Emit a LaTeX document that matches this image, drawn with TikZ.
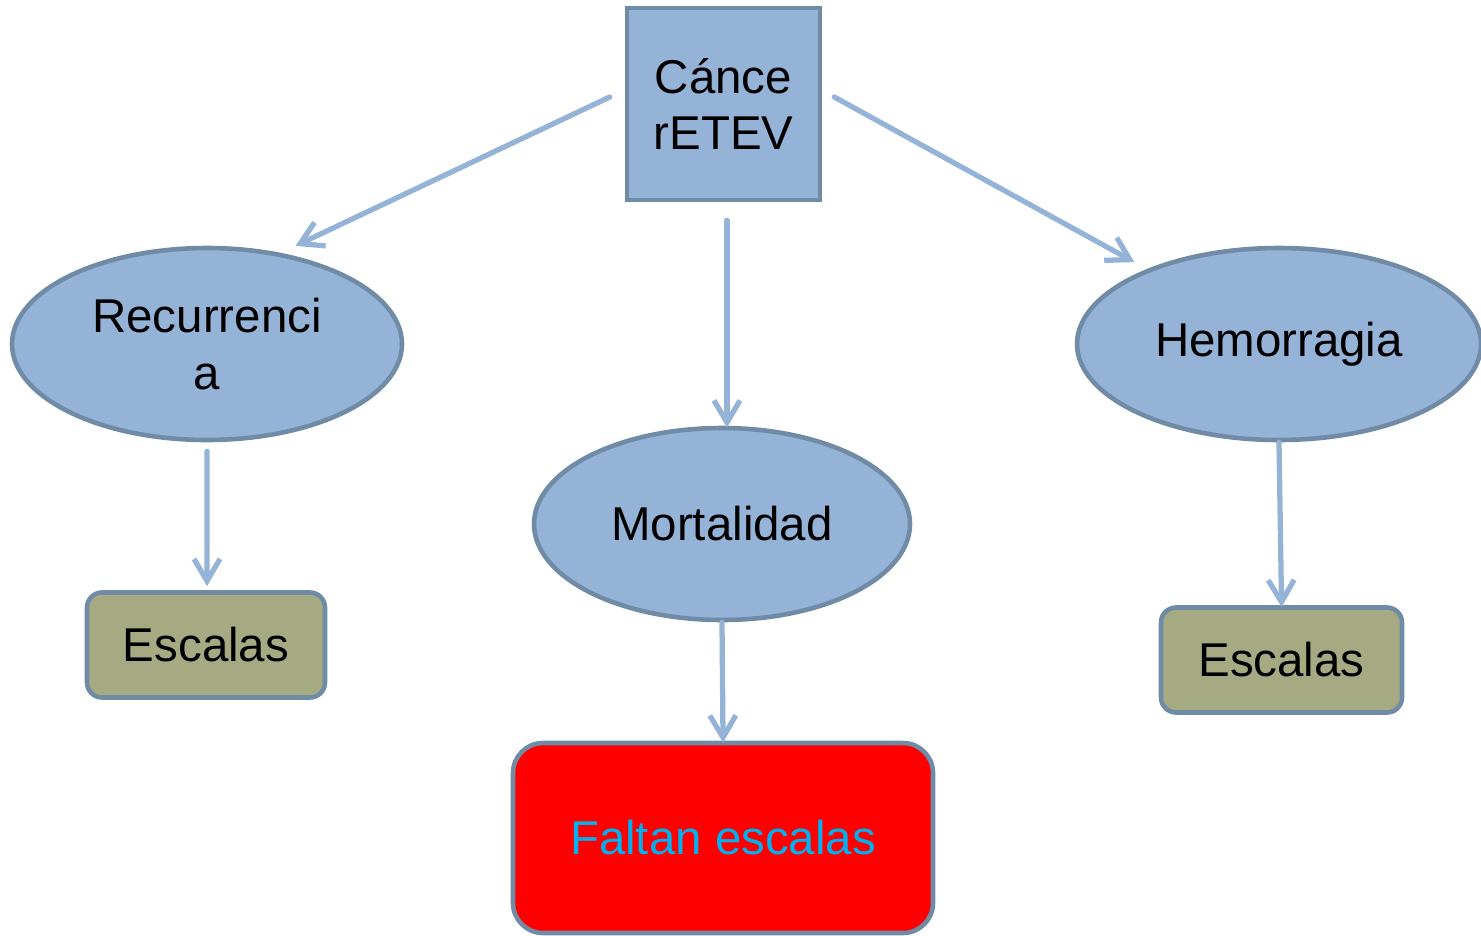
\documentclass[tikz,border=0pt]{standalone}
\usepackage{fontspec}
\setmainfont{Liberation Sans}
\usetikzlibrary{shapes.geometric,arrows.meta}
\definecolor{boxblue}{HTML}{95B3D7}
\definecolor{edgeblue}{HTML}{6F8BA6}
\definecolor{olive}{HTML}{A6AA82}
\definecolor{textcyan}{HTML}{00B0F0}
\tikzset{
  base/.style={draw=edgeblue, line width=1.3pt, inner sep=0pt, align=center,
    font=\fontsize{13.5}{16}\selectfont},
  topbox/.style={base, rectangle, fill=boxblue, minimum width=1.93cm, minimum height=1.92cm},
  oval/.style={base, ellipse, fill=boxblue, minimum height=1.92cm},
  scalebox/.style={base, rectangle, rounded corners=0.15cm, fill=olive,
    minimum width=2.38cm, minimum height=1.05cm},
  warnbox/.style={base, rectangle, rounded corners=0.3cm, fill=red, text=textcyan,
    minimum width=4.2cm, minimum height=1.9cm},
  arr/.style={draw=boxblue, line width=1.5pt, line cap=round, shorten >=-1.4pt,
    -{Straight Barb[length=2.2mm,width=2.6mm,line width=1.5pt]}}
}
\begin{document}
\begin{tikzpicture}
\useasboundingbox (0,0) rectangle (14.81,-9.35);
% nodes
\node[topbox] (cancer) at (7.235,-1.04) {Cánce\\rETEV};
\node[oval, minimum width=3.9cm] (recur) at (2.07,-3.44) {Recurrenci\\a};
\node[oval, minimum width=3.76cm] (mort) at (7.22,-5.24) {Mortalidad};
\node[oval, minimum width=4.04cm] (hemo) at (12.79,-3.44) {Hemorragia};
\node[scalebox] (escL) at (2.06,-6.45) {Escalas};
\node[scalebox, minimum width=2.41cm] (escR) at (12.815,-6.60) {Escalas};
\node[warnbox] (faltan) at (7.23,-8.38) {Faltan escalas};
% arrows
\draw[arr] ([shift={(-0.15,0.07)}]cancer.west) -- ([shift={(0.93,0.02)}]recur.north);
\draw[arr] ([shift={(0.12,0.07)}]cancer.east) -- ([shift={(-1.49,-0.14)}]hemo.north);
\draw[arr] ([shift={(0.035,-0.18)}]cancer.south) -- ([shift={(0.05,0.03)}]mort.north);
\draw[arr] ([yshift=-0.09cm]recur.south) -- ([shift={(0.01,0.09)}]escL.north);
\draw[arr] (mort.south) -- ([yshift=0.03cm]faltan.north);
\draw[arr] (hemo.south) -- ([yshift=0.03cm]escR.north);
\end{tikzpicture}
\end{document}
